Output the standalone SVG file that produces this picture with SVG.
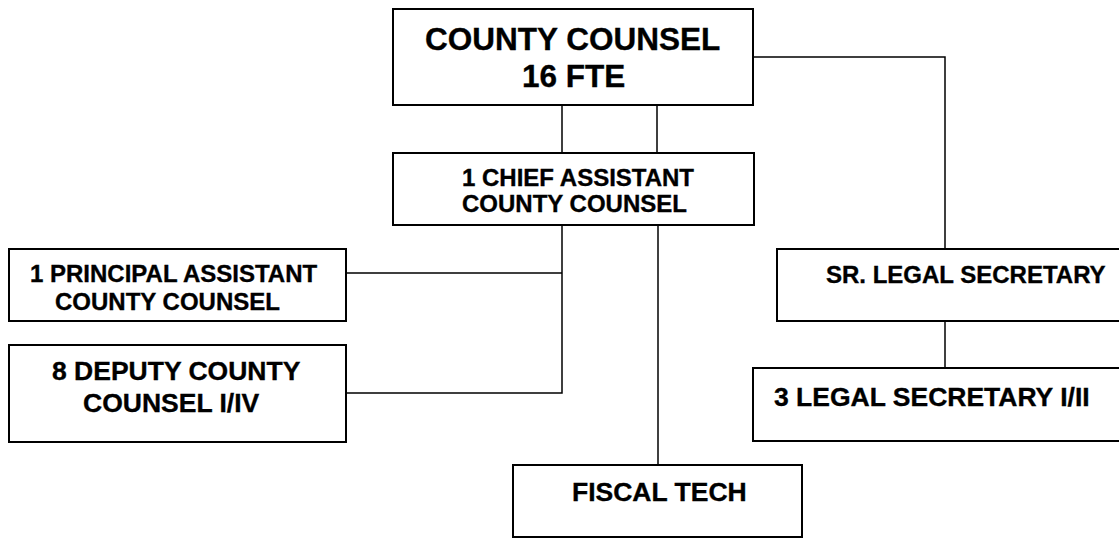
<svg xmlns="http://www.w3.org/2000/svg" width="1119" height="538" viewBox="0 0 1119 538">
<style>
.box{fill:#fff;stroke:#000;stroke-width:2}
.ln{fill:none;stroke:#000;stroke-width:1.5}
text{font-family:"Liberation Sans",Arial,sans-serif;font-weight:bold;fill:#000;stroke:#000;stroke-width:0.35}
.t31{font-size:31.5px}
.t24{font-size:24px}
.t26{font-size:26.5px}
</style>
<rect width="1119" height="538" fill="#fff"/>
<g id="connectors">
<path class="ln" d="M562,105V153M657,105V153"/>
<path class="ln" d="M753,57H945V249"/>
<path class="ln" d="M945,321V368"/>
<path class="ln" d="M562,225V393H346M562,273H346"/>
<path class="ln" d="M658,225V465"/>
</g>
<g id="county-counsel">
<rect class="box" x="393" y="9" width="360" height="96"/>
<text class="t31" x="425" y="50">COUNTY COUNSEL</text>
<text class="t31" x="522" y="87">16 FTE</text>
</g>
<g id="chief-assistant">
<rect class="box" x="393" y="153" width="361" height="72"/>
<text class="t24" x="462" y="186">1 CHIEF ASSISTANT</text>
<text class="t24" x="462" y="212">COUNTY COUNSEL</text>
</g>
<g id="principal-assistant">
<rect class="box" x="9" y="249" width="337" height="72"/>
<text class="t24" x="30" y="282">1 PRINCIPAL ASSISTANT</text>
<text class="t24" x="55" y="310">COUNTY COUNSEL</text>
</g>
<g id="deputy-county-counsel">
<rect class="box" x="9" y="345" width="337" height="97"/>
<text class="t26" x="52" y="380">8 DEPUTY COUNTY</text>
<text class="t26" x="83" y="412">COUNSEL I/IV</text>
</g>
<g id="sr-legal-secretary">
<rect class="box" x="777" y="249" width="360" height="72"/>
<text class="t24" x="826" y="283">SR. LEGAL SECRETARY</text>
</g>
<g id="legal-secretary">
<rect class="box" x="753" y="368" width="380" height="73"/>
<text class="t26" x="774" y="406">3 LEGAL SECRETARY I/II</text>
</g>
<g id="fiscal-tech">
<rect class="box" x="513" y="465" width="289" height="72"/>
<text class="t26" x="572" y="501">FISCAL TECH</text>
</g>
</svg>
